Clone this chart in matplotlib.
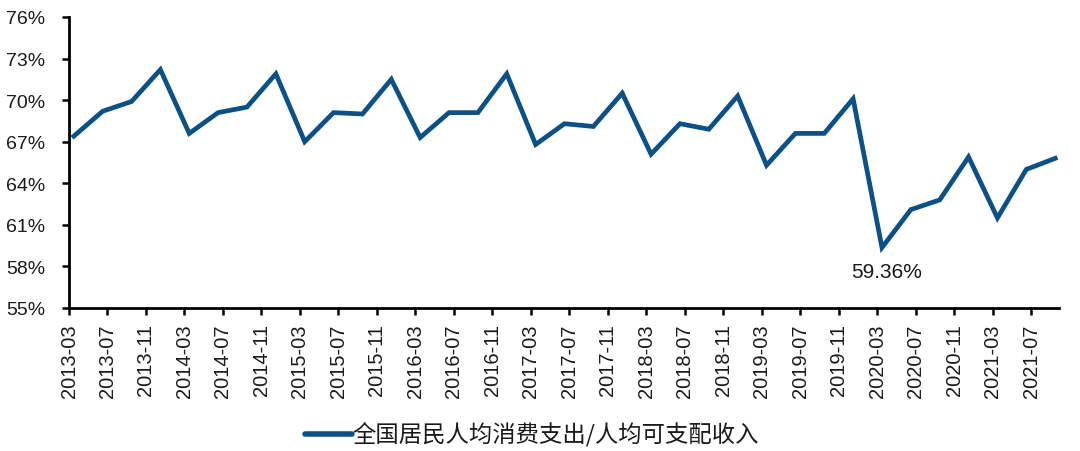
import matplotlib
matplotlib.use("Agg")
import matplotlib.pyplot as plt

# Quarterly data
dates = ["2013-03","2013-06","2013-09","2013-12","2014-03","2014-06","2014-09","2014-12",
         "2015-03","2015-06","2015-09","2015-12","2016-03","2016-06","2016-09","2016-12",
         "2017-03","2017-06","2017-09","2017-12","2018-03","2018-06","2018-09","2018-12",
         "2019-03","2019-06","2019-09","2019-12","2020-03","2020-06","2020-09","2020-12",
         "2021-03","2021-06","2021-09"]
ratio = [67.4, 69.2, 69.9, 72.2, 67.6, 69.1, 69.5, 71.9,
         67.0, 69.1, 69.0, 71.5, 67.3, 69.1, 69.1, 71.9,
         66.8, 68.3, 68.1, 70.5, 66.1, 68.3, 67.9, 70.3,
         65.3, 67.6, 67.6, 70.1, 59.36, 62.1, 62.8, 65.9,
         61.5, 65.0, 65.8]
tick_labels = ["2013-03","2013-07","2013-11","2014-03","2014-07","2014-11","2015-03","2015-07",
               "2015-11","2016-03","2016-07","2016-11","2017-03","2017-07","2017-11","2018-03",
               "2018-07","2018-11","2019-03","2019-07","2019-11","2020-03","2020-07","2020-11",
               "2021-03","2021-07"]
y_ticks = [55, 58, 61, 64, 67, 70, 73, 76]
series_name = "全国居民人均消费支出/人均可支配收入"
annot_text = "59.36%"

def month_idx(s):
    y, m = s.split("-")
    return (int(y) - 2013) * 12 + int(m) - 3

# data dated mid-month on a month-based date axis; ticks at start of month
x = [month_idx(d) + 0.5 for d in dates]
xt = [month_idx(t) for t in tick_labels]

plt.rcParams['font.family'] = ['Liberation Sans', 'Noto Sans CJK SC', 'DejaVu Sans']

fig = plt.figure(figsize=(10.8, 4.52), dpi=100)
ax = fig.add_axes([69/1080, 1-309/452, (1059-69)/1080, (309-18)/452])
color = '#0C5088'
line, = ax.plot(x, ratio, color=color, lw=3.4, solid_joinstyle='miter', label=series_name)

ax.set_xlim(0, 102.9)
ax.set_ylim(55, 76)
ax.set_yticks(y_ticks)
ax.set_yticklabels([f"{v}%" for v in y_ticks], fontsize=14, color='#1a1a1a')
ax.set_xticks(xt)
ax.set_xticklabels(tick_labels, rotation=90, fontsize=14.5, color='#1a1a1a')
ax.tick_params(axis='y', direction='out', length=5, width=1.8, pad=12)
ax.tick_params(axis='x', direction='out', length=5, width=1.8, pad=6)
for s in ['top', 'right']:
    ax.spines[s].set_visible(False)
for s in ['left', 'bottom']:
    ax.spines[s].set_linewidth(2)
    ax.spines[s].set_color('black')

imin = ratio.index(min(ratio))
ax.annotate(annot_text, (x[imin], ratio[imin]), xytext=(3.6, -17), textcoords='offset points',
            ha='center', va='center', fontsize=15, color='#1a1a1a')

leg = fig.legend(handles=[line], labels=[series_name], loc='center', bbox_to_anchor=(0.4926, 0.036),
                 frameon=False, handlelength=2.0, handletextpad=0.05,
                 prop={'family': ['Noto Sans CJK SC', 'DejaVu Sans'], 'size': 16.8})
for h in leg.legend_handles:
    h.set_linewidth(4.0)
    h.set_solid_capstyle('round')
for t in leg.get_texts():
    t.set_color('#1a1a1a')

fig.savefig("out.png", dpi=100)
